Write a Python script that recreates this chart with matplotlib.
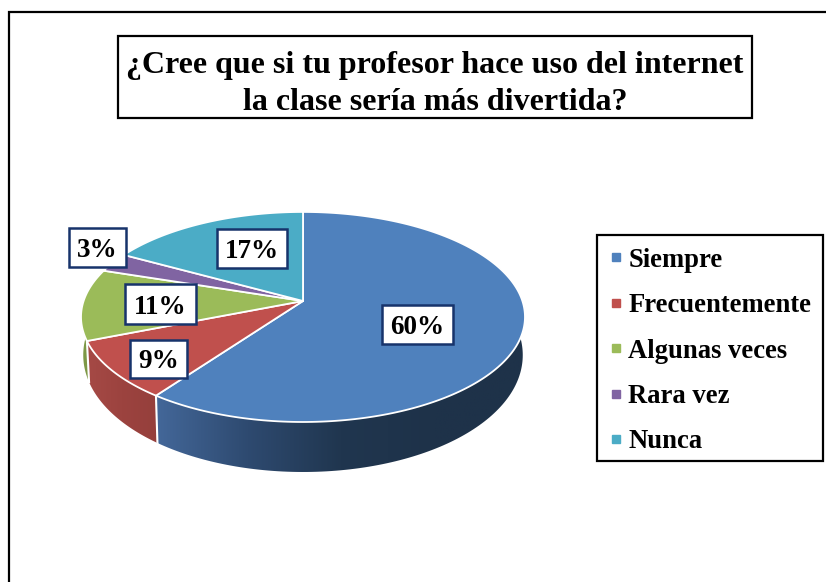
import numpy as np
import matplotlib
matplotlib.use("Agg")
import matplotlib.pyplot as plt
from matplotlib.colors import LinearSegmentedColormap
from matplotlib.lines import Line2D
from matplotlib.patches import Polygon, Rectangle

categories = ["Siempre", "Frecuentemente", "Algunas veces", "Rara vez", "Nunca"]
values = [60, 9, 11, 3, 17]
pct_labels = ["60%", "9%", "11%", "3%", "17%"]
colors = ["#4f81bd", "#c0504d", "#9bbb59", "#8064a2", "#4bacc6"]
wall_stops = [
    ["#44689a", "#2e4a70", "#20364f", "#1e3249", "#1e3249"],
    ["#a64a46", "#9c433f", "#953f3c"],
    ["#7f9a48", "#7a9440"],
    ["#6d5589", "#5f4a78"],
    ["#3f92a8", "#367f92"],
]
title = "¿Cree que si tu profesor hace uso del internet\nla clase sería más divertida?"
# label boxes: left, top, width, height in picture pixels
label_boxes = [(382, 305, 71, 39), (130, 340, 57, 38), (125, 284, 71, 40), (69, 228, 57, 39), (217, 229, 70, 39)]

plt.rcParams["font.family"] = ["Liberation Serif", "DejaVu Serif"]
W, H = 826, 582
fig = plt.figure(figsize=(W / 100, H / 100), dpi=100)
ax = fig.add_axes([0, 0, 1, 1])
ax.axis("off")

# perspective view of the pie disc
CX, CY = 303, 301
A, B, K = 102.6, 219.4, 0.152
SHRINK = 0.99


def project(theta):
    u, v = np.sin(theta), np.cos(theta)
    w = 1 + K * v
    return CX + B * u / w, CY - A * v / w, v


def wall_bottom(x, y, v):
    return CX + (x - CX) * SHRINK, y + 36 - 14 * v


edges = np.cumsum([0] + values) / sum(values) * 2 * np.pi
arcs = [np.linspace(edges[i], edges[i + 1], 200) for i in range(len(values))]

# walls: gradient images clipped to each slice's outer wall
for arc, stops in zip(arcs, wall_stops):
    x, y, v = project(arc)
    xb, yb = wall_bottom(x, y, v)
    poly = Polygon(np.c_[np.r_[x, xb[::-1]], np.r_[y, yb[::-1]]], closed=True, facecolor="none", edgecolor="none",
                   transform=ax.transData)
    ax.add_patch(poly)
    cmap = LinearSegmentedColormap.from_list("wall", stops)
    im = ax.imshow(np.linspace(0, 1, 256)[None, :], cmap=cmap, aspect="auto", zorder=2,
                   extent=(x.min() - 2, x.max() + 2, max(yb.max(), y.max()) + 2, min(y.min(), yb.min()) - 2))
    im.set_clip_path(poly)

ax.set_xlim(0, W)
ax.set_ylim(H, 0)

# white seams on the front wall
for e in edges:
    x, y, v = project(np.array([e]))
    xb, yb = wall_bottom(x, y, v)
    if v[0] < 0:
        ax.plot([x[0], xb[0]], [y[0], yb[0]], color="white", lw=1.5, zorder=3)

# top faces
for arc, col in zip(arcs, colors):
    x, y, v = project(arc)
    ax.fill(np.r_[CX, x], np.r_[CY, y], facecolor=col, edgecolor="white", lw=1.3, joinstyle="round", zorder=4)

# percentage labels
for (l, t, w, h), s in zip(label_boxes, pct_labels):
    ax.add_patch(Rectangle((l, t), w, h, facecolor="white", edgecolor="#17336b", lw=1.8, zorder=5))
    ax.text(l + w / 2, t + h / 2 + 3, s, ha="center", va="center", fontsize=19.5, fontweight="bold",
            color="black", zorder=6)

# title
ax.add_patch(Rectangle((117.5, 35.5), 634.5, 82, facecolor="white", edgecolor="black", lw=1.6, zorder=5))
ax.text(435, 84, title, ha="center", va="center", fontsize=23, fontweight="bold", linespacing=1.35, zorder=6)

# legend
ax.add_patch(Rectangle((597, 235), 226, 226, facecolor="white", edgecolor="black", lw=1.6, zorder=5))
handles = [Line2D([], [], linestyle="none", marker="s", markersize=5.8, color=c) for c in colors]
leg = ax.legend(handles, categories, loc="upper left", bbox_to_anchor=(597, 235), bbox_transform=ax.transData,
                prop=dict(size=19.2, weight="bold"), frameon=False,
                labelspacing=0.765, handlelength=0.5, handletextpad=0.2, borderpad=0.48, borderaxespad=0)
leg.set_zorder(6)

# outer frame, open at the bottom and right edge of the picture
ax.plot([9, 9, W], [H, 11.5, 11.5], color="black", lw=1.6, zorder=1, solid_joinstyle="miter")

fig.savefig("out.png", dpi=100)
